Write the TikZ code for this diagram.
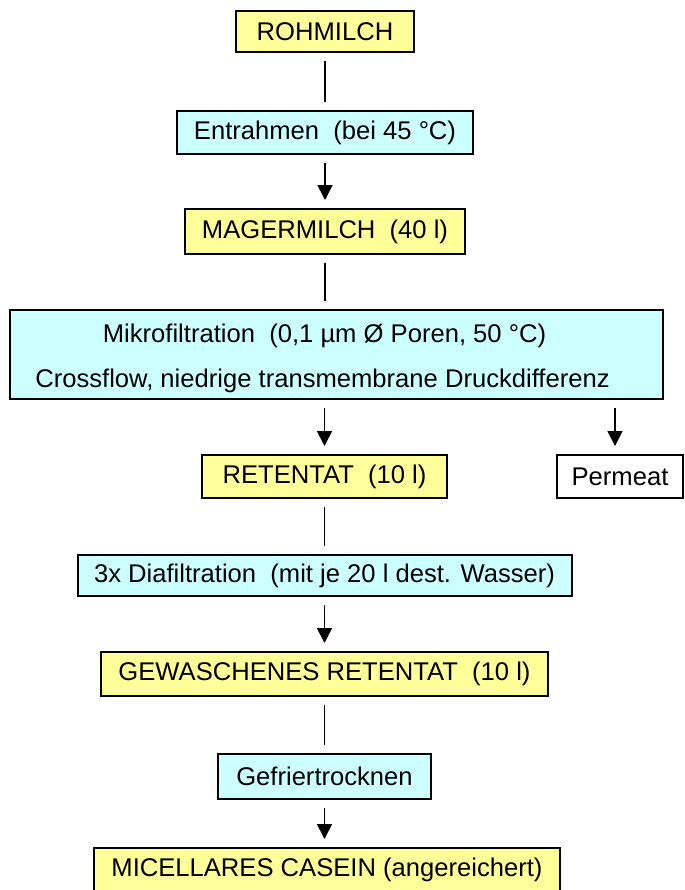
\documentclass[tikz,border=0pt]{standalone}
\usepackage{fontspec}
\setmainfont{Liberation Sans}
\usetikzlibrary{positioning,arrows.meta}

\definecolor{milchgelb}{HTML}{FFFF99}
\definecolor{prozesscyan}{HTML}{CCFFFF}

\tikzset{
  kasten/.style={draw,line width=1pt,inner sep=0pt,minimum height=21.5pt},
  stoff/.style={kasten,fill=milchgelb},
  prozess/.style={kasten,fill=prozesscyan},
  rest/.style={kasten,fill=white},
  verbindung/.style={line width=0.85pt,shorten <=4pt,shorten >=4pt},
  pfeil/.style={verbindung,-{Triangle[length=7.5pt,width=7.5pt]}}
}

\begin{document}
\begin{tikzpicture}[node distance=27pt,font=\fontsize{12.8}{15}\selectfont]
    \useasboundingbox (0,0) rectangle (342.5pt,-445pt);

    % Hauptstrang
    \node [stoff,minimum width=89pt,minimum height=20.5pt] (roh) at (162.5pt,-15.75pt) {ROHMILCH};
    \node [prozess,minimum width=148pt,below=28.5pt of roh] (entr) {Entrahmen\ \ (bei 45~°C)};
    \node [stoff,minimum width=140pt,minimum height=22.5pt,below=26.5pt of entr] (mag) {MAGERMILCH\ \ (40~l)};
    \node [prozess,minimum width=326.5pt,minimum height=44.5pt,align=center,
           below=27pt of mag,xshift=5.75pt] (mikro)
        {\rule{0pt}{13.5pt}Mikrofiltration\ \ (0,1~µm Ø Poren, 50~°C)\hspace*{12pt}\\[7.5pt]
         Crossflow, niedrige transmembrane Druckdifferenz\hspace*{14pt}};
    \node [stoff,minimum width=122.5pt,below=27pt of mikro,xshift=-6pt] (ret) {RETENTAT\ \ (10~l)};
    \node [rest,minimum width=63pt,right=54pt of ret] (perm) {Permeat};
    \node [prozess,minimum width=247pt,minimum height=20.5pt,below=27.5pt of ret] (dia)
        {3x Diafiltration\ \ (mit je 20~l dest. Wasser)};
    \node [stoff,minimum width=223.5pt,minimum height=22pt,below=27pt of dia] (gew)
        {GEWASCHENES RETENTAT\ \ (10~l)};
    \node [prozess,minimum width=106.5pt,minimum height=22.5pt,below=28pt of gew] (gefr) {Gefriertrocknen};
    \node [stoff,minimum width=233pt,below=23.5pt of gefr,xshift=1.25pt] (casein)
        {MICELLARES CASEIN (angereichert)};

    % Verbindungen
    \draw [verbindung] (roh) -- (entr);
    \draw [pfeil] (entr) -- (mag);
    \draw [verbindung] (mag.south) -- (mag.south |- mikro.north);
    \draw [pfeil] (mikro.south -| ret.north) -- (ret.north);
    \draw [pfeil] ([xshift=-2.5pt]mikro.south -| perm.north) -- ([xshift=-2.5pt]perm.north);
    \draw [verbindung] (ret) -- (ret.south |- dia.north);
    \draw [pfeil] (dia.south -| ret.south) -- (ret.south |- gew.north);
    \draw [verbindung] (gew) -- (gefr);
    \draw [pfeil] (gefr.south) -- (gefr.south |- casein.north);
\end{tikzpicture}
\end{document}
